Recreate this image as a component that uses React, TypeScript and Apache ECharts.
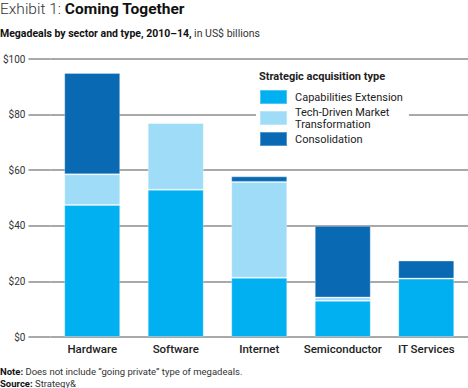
import React, { useEffect, useRef } from "react";
import * as echarts from "echarts";

const categories = ["Hardware", "Software", "Internet", "Semiconductor", "IT Services"];
const capabilitiesExtension = [47.5, 53, 21.3, 13, 21];
const techDrivenTransformation = [11, 24, 34.5, 1.2, 0];
const consolidation = [36.5, 0, 2, 25.8, 6.5];
const seriesNames = ["Capabilities Extension", "Tech-Driven Market\nTransformation", "Consolidation"];
const seriesColors = ["#00b0f0", "#9edcf8", "#0a69b3"];
const yTicks = [0, 20, 40, 60, 80, 100];

const FONT = "Roboto, 'DejaVu Sans', sans-serif";

export default function App() {
  const ref = useRef<HTMLDivElement>(null);
  useEffect(() => {
    if (!ref.current) return;
    const chart = echarts.init(ref.current, null, { renderer: "svg" });
    const data = [capabilitiesExtension, techDrivenTransformation, consolidation];
    chart.setOption({
      animation: false,
      textStyle: { fontFamily: FONT },
      grid: { left: 47, right: 0, top: 59, bottom: 51, containLabel: false },
      xAxis: {
        type: "category",
        data: categories,
        axisLine: { show: false },
        axisTick: { show: false },
        axisLabel: { color: "#222", fontSize: 11.5, fontWeight: 500, margin: 6, interval: 0, fontFamily: FONT },
      },
      yAxis: {
        type: "value",
        min: yTicks[0],
        max: yTicks[yTicks.length - 1],
        interval: 20,
        axisLine: { show: false },
        axisTick: { show: true, length: 22, lineStyle: { color: "#8c8c8c", width: 1.5 } },
        splitLine: { show: true, lineStyle: { color: "#8c8c8c", width: 1.5 } },
        axisLabel: {
          color: "#333",
          fontSize: 10,
          margin: 25,
          fontFamily: FONT,
          formatter: (v: number) => "$" + v,
        },
      },
      legend: {
        orient: "vertical",
        left: 256,
        top: 86,
        itemWidth: 27,
        itemHeight: 14,
        itemGap: 1,
        padding: [3, 6, 3, 3],
        backgroundColor: "#fff",
        icon: "rect",
        data: seriesNames,
        textStyle: { color: "#222", fontSize: 11, lineHeight: 12, fontFamily: FONT, padding: [0, 0, 0, 3] },
        selectedMode: false,
      },
      series: seriesNames.map((name, i) => ({
        name,
        type: "bar",
        stack: "total",
        barWidth: 56,
        data: data[i],
        itemStyle: { color: seriesColors[i], borderColor: "rgba(255,255,255,0.3)", borderWidth: 1 },
      })),
      graphic: [
        {
          type: "text",
          left: 0,
          top: 1,
          style: {
            text: "{a|Exhibit 1: }{b|Coming Together}",
            rich: {
              a: { fontSize: 15.5, fontFamily: FONT, fill: "#333", fontWeight: 300 },
              b: { fontSize: 15.5, fontFamily: FONT, fill: "#111", fontWeight: "bold" },
            },
          },
        },
        {
          type: "text",
          left: 0,
          top: 28,
          style: {
            text: "{a|Megadeals by sector and type, 2010–14,}{b| in US$ billions}",
            rich: {
              a: { fontSize: 10.5, fontFamily: FONT, fill: "#111", fontWeight: "bold" },
              b: { fontSize: 10.5, fontFamily: FONT, fill: "#333" },
            },
          },
        },
        {
          type: "text",
          left: 259,
          top: 71,
          z: 100,
          style: {
            text: "Strategic acquisition type",
            fontSize: 11,
            fontWeight: "bold",
            fontFamily: FONT,
            fill: "#222",
          },
        },
        {
          type: "text",
          left: 0,
          top: 366,
          style: {
            text: "{a|Note:}{b| Does not include “going private” type of megadeals.}",
            rich: {
              a: { fontSize: 9.5, fontFamily: FONT, fill: "#111", fontWeight: "bold" },
              b: { fontSize: 9.5, fontFamily: FONT, fill: "#333" },
            },
          },
        },
        {
          type: "text",
          left: 0,
          top: 378,
          style: {
            text: "{a|Source:}{b| Strategy&}",
            rich: {
              a: { fontSize: 9.5, fontFamily: FONT, fill: "#111", fontWeight: "bold" },
              b: { fontSize: 9.5, fontFamily: FONT, fill: "#333" },
            },
          },
        },
      ],
    });
    return () => chart.dispose();
  }, []);
  return (
    <div
      ref={ref}
      style={{ position: "absolute", left: 0, top: 0, width: 468, height: 388, background: "#fff" }}
    />
  );
}
